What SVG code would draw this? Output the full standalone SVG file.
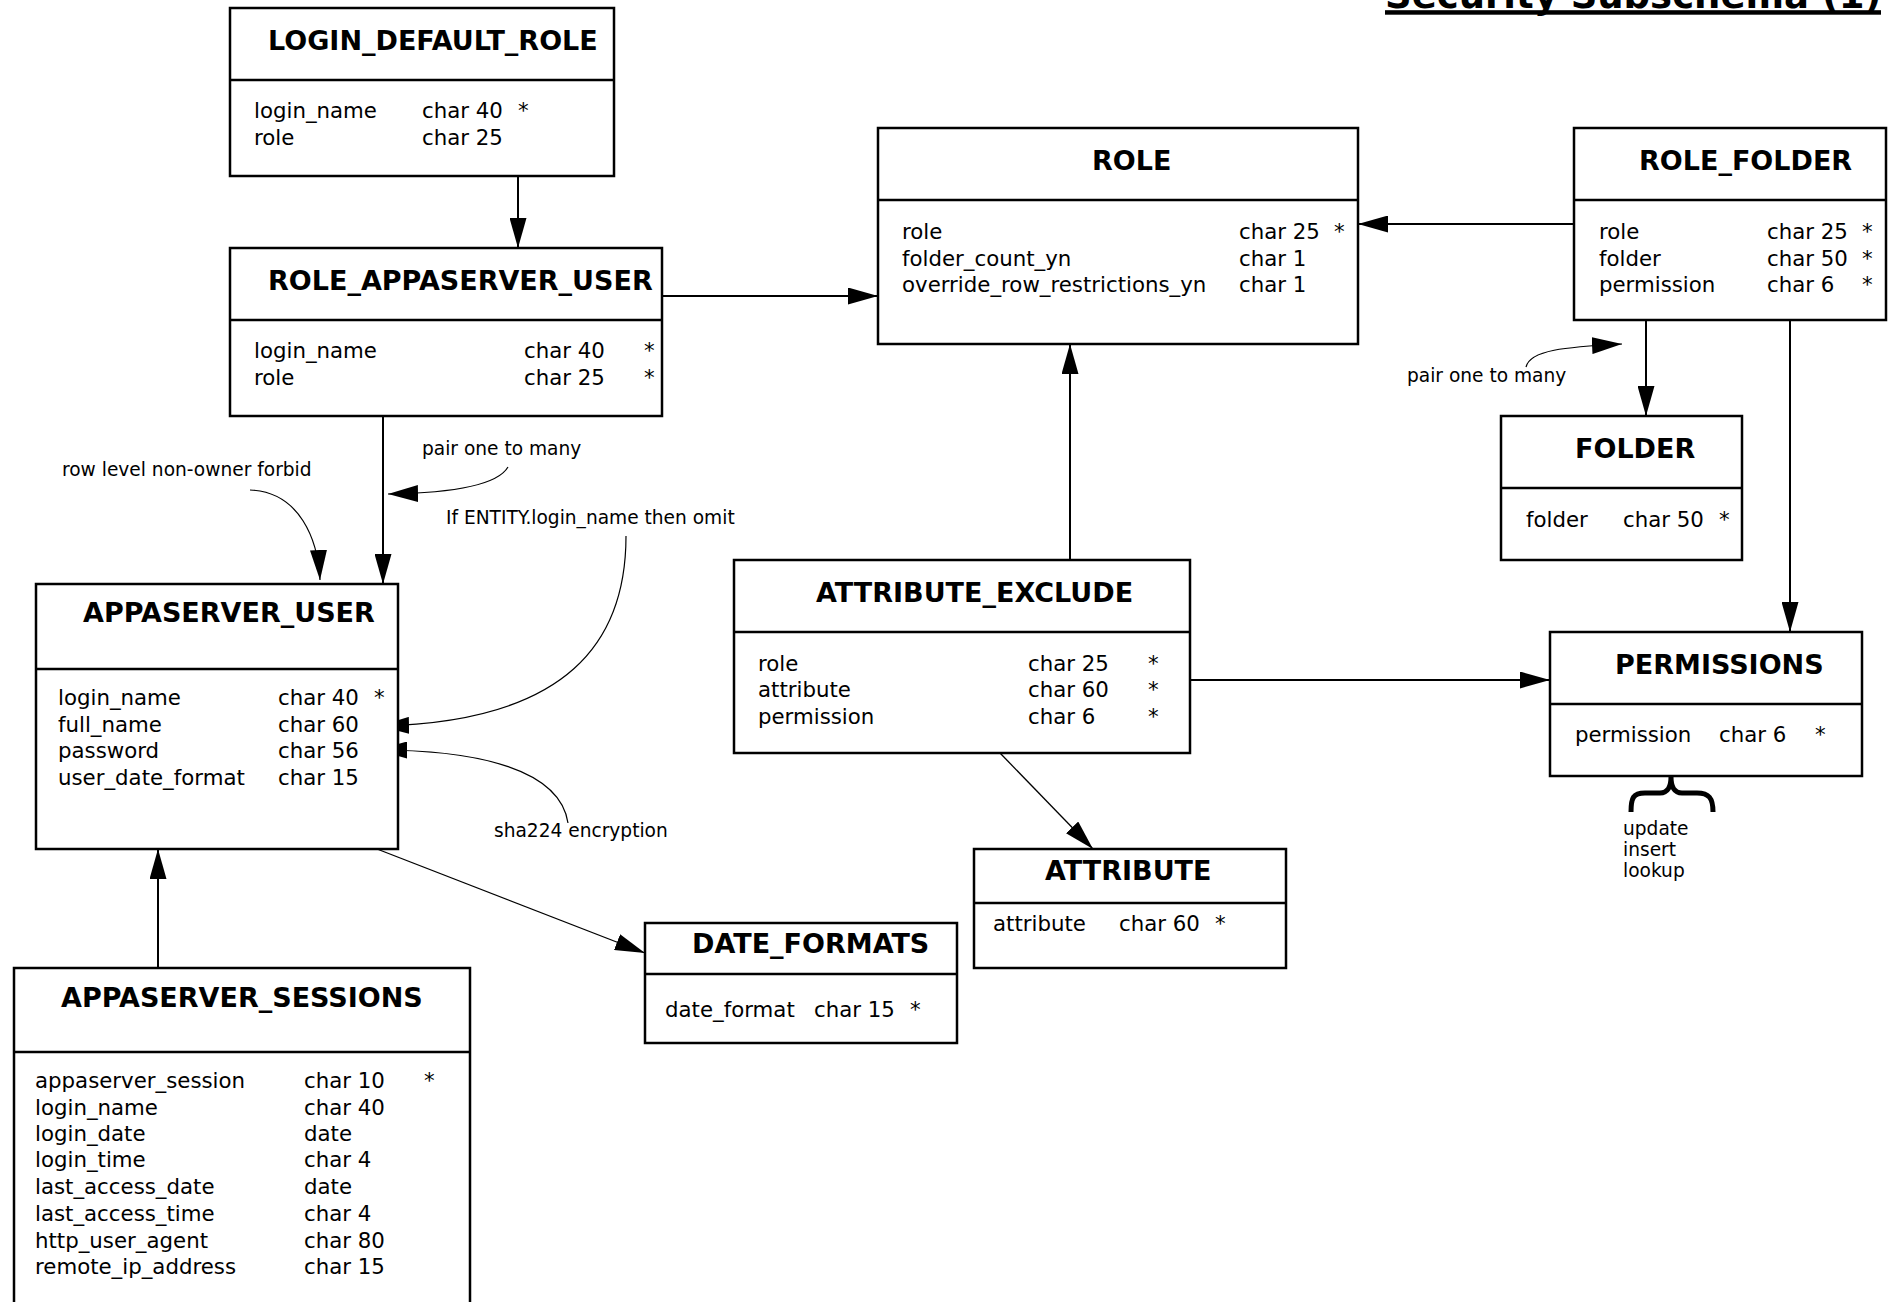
<svg xmlns="http://www.w3.org/2000/svg" width="1898" height="1302" viewBox="0 0 1898 1302">
<style>
.box{fill:#fff;stroke:#000;stroke-width:2.5}
.div{stroke:#000;stroke-width:2.5}
.t{font-family:"DejaVu Sans",sans-serif;font-weight:bold;font-size:27px;fill:#000}
.f{font-family:"DejaVu Sans",sans-serif;font-size:21.3px;fill:#000}
.n{font-family:"DejaVu Sans",sans-serif;font-size:18.6px;fill:#000}
.c{fill:none;stroke:#000;stroke-width:2}
.thin{fill:none;stroke:#000;stroke-width:1.3}
.crv{fill:none;stroke:#000;stroke-width:1.2}
</style>
<defs>
<marker id="ah" markerUnits="userSpaceOnUse" markerWidth="30" markerHeight="17" refX="30" refY="8.5" orient="auto">
<path d="M0,0 L30,8.5 L0,17 z" fill="#000"/>
</marker>
</defs>
<rect width="1898" height="1302" fill="#fff"/>

<g id="title">
<text x="1385" y="8" font-family="DejaVu Sans, sans-serif" font-weight="bold" font-size="37" fill="#000">Security Subschema (1)</text>
<rect x="1385" y="10.2" width="496" height="4.5" fill="#000"/>
</g>

<g id="connectors">
<path class="c" d="M518,176 L518,248" marker-end="url(#ah)"/>
<path class="c" d="M662,296 L878,296" marker-end="url(#ah)"/>
<path class="c" d="M1574,224 L1358,224" marker-end="url(#ah)"/>
<path class="c" d="M383,416 L383,584" marker-end="url(#ah)"/>
<path class="c" d="M158,968 L158,849" marker-end="url(#ah)"/>
<path class="c" d="M1070,560 L1070,344" marker-end="url(#ah)"/>
<path class="c" d="M1190,680 L1550,680" marker-end="url(#ah)"/>
<path class="c" d="M1646,320 L1646,416" marker-end="url(#ah)"/>
<path class="c" d="M1790,320 L1790,632" marker-end="url(#ah)"/>
<path class="thin" d="M1000,753 L1093,849" marker-end="url(#ah)"/>
<path class="thin" d="M377,849 L645,953" marker-end="url(#ah)"/>
<path class="crv" d="M508,467 C497,486 450,493 388,494" marker-end="url(#ah)"/>
<path class="crv" d="M250,490 C300,492 318,540 320,580" marker-end="url(#ah)"/>
<path class="crv" d="M626,536 C626,640 570,722 379,726" marker-end="url(#ah)"/>
<path class="crv" d="M568,823 C560,770 480,750 377,750" marker-end="url(#ah)"/>
<path class="crv" d="M1526,367 C1530,350 1565,347 1622,344" marker-end="url(#ah)"/>
</g>

<g id="notes">
<text class="n" x="422" y="455">pair one to many</text>
<text class="n" x="62" y="476">row level non-owner forbid</text>
<text class="n" x="446" y="524">If ENTITY.login_name then omit</text>
<text class="n" x="494" y="837">sha224 encryption</text>
<text class="n" x="1407" y="382">pair one to many</text>
<path d="M1631,812 C1631,798 1633,793 1645,793 L1660,793 C1668,793 1671,786 1671,777 C1671,786 1674,793 1682,793 L1697,793 C1709,793 1713,798 1713,812" fill="none" stroke="#000" stroke-width="5"/>
<text class="n" x="1623" y="835">update</text>
<text class="n" x="1623" y="856">insert</text>
<text class="n" x="1623" y="877">lookup</text>
</g>

<g id="LOGIN_DEFAULT_ROLE">
<rect class="box" x="230" y="8" width="384" height="168"/>
<line class="div" x1="230" y1="80" x2="614" y2="80"/>
<text class="t" x="268" y="50">LOGIN_DEFAULT_ROLE</text>
<text class="f" x="254" y="118">login_name</text><text class="f" x="422" y="118">char 40</text><text class="f" x="518" y="118">*</text>
<text class="f" x="254" y="145">role</text><text class="f" x="422" y="145">char 25</text>
</g>

<g id="ROLE_APPASERVER_USER">
<rect class="box" x="230" y="248" width="432" height="168"/>
<line class="div" x1="230" y1="320" x2="662" y2="320"/>
<text class="t" x="268" y="290">ROLE_APPASERVER_USER</text>
<text class="f" x="254" y="358">login_name</text><text class="f" x="524" y="358">char 40</text><text class="f" x="644" y="358">*</text>
<text class="f" x="254" y="385">role</text><text class="f" x="524" y="385">char 25</text><text class="f" x="644" y="385">*</text>
</g>

<g id="ROLE">
<rect class="box" x="878" y="128" width="480" height="216"/>
<line class="div" x1="878" y1="200" x2="1358" y2="200"/>
<text class="t" x="1092" y="170">ROLE</text>
<text class="f" x="902" y="239">role</text><text class="f" x="1239" y="239">char 25</text><text class="f" x="1334" y="239">*</text>
<text class="f" x="902" y="266">folder_count_yn</text><text class="f" x="1239" y="266">char 1</text>
<text class="f" x="902" y="292">override_row_restrictions_yn</text><text class="f" x="1239" y="292">char 1</text>
</g>

<g id="ROLE_FOLDER">
<rect class="box" x="1574" y="128" width="312" height="192"/>
<line class="div" x1="1574" y1="200" x2="1886" y2="200"/>
<text class="t" x="1639" y="170">ROLE_FOLDER</text>
<text class="f" x="1599" y="239">role</text><text class="f" x="1767" y="239">char 25</text><text class="f" x="1862" y="239">*</text>
<text class="f" x="1599" y="266">folder</text><text class="f" x="1767" y="266">char 50</text><text class="f" x="1862" y="266">*</text>
<text class="f" x="1599" y="292">permission</text><text class="f" x="1767" y="292">char 6</text><text class="f" x="1862" y="292">*</text>
</g>

<g id="FOLDER">
<rect class="box" x="1501" y="416" width="241" height="144"/>
<line class="div" x1="1501" y1="488" x2="1742" y2="488"/>
<text class="t" x="1575" y="458">FOLDER</text>
<text class="f" x="1526" y="527">folder</text><text class="f" x="1623" y="527">char 50</text><text class="f" x="1719" y="527">*</text>
</g>

<g id="PERMISSIONS">
<rect class="box" x="1550" y="632" width="312" height="144"/>
<line class="div" x1="1550" y1="704" x2="1862" y2="704"/>
<text class="t" x="1615" y="674">PERMISSIONS</text>
<text class="f" x="1575" y="742">permission</text><text class="f" x="1719" y="742">char 6</text><text class="f" x="1815" y="742">*</text>
</g>

<g id="ATTRIBUTE_EXCLUDE">
<rect class="box" x="734" y="560" width="456" height="193"/>
<line class="div" x1="734" y1="632" x2="1190" y2="632"/>
<text class="t" x="816" y="602">ATTRIBUTE_EXCLUDE</text>
<text class="f" x="758" y="671">role</text><text class="f" x="1028" y="671">char 25</text><text class="f" x="1148" y="671">*</text>
<text class="f" x="758" y="697">attribute</text><text class="f" x="1028" y="697">char 60</text><text class="f" x="1148" y="697">*</text>
<text class="f" x="758" y="724">permission</text><text class="f" x="1028" y="724">char 6</text><text class="f" x="1148" y="724">*</text>
</g>

<g id="ATTRIBUTE">
<rect class="box" x="974" y="849" width="312" height="119"/>
<line class="div" x1="974" y1="903" x2="1286" y2="903"/>
<text class="t" x="1045" y="880">ATTRIBUTE</text>
<text class="f" x="993" y="931">attribute</text><text class="f" x="1119" y="931">char 60</text><text class="f" x="1215" y="931">*</text>
</g>

<g id="DATE_FORMATS">
<rect class="box" x="645" y="923" width="312" height="120"/>
<line class="div" x1="645" y1="974" x2="957" y2="974"/>
<text class="t" x="692" y="953">DATE_FORMATS</text>
<text class="f" x="665" y="1017">date_format</text><text class="f" x="814" y="1017">char 15</text><text class="f" x="910" y="1017">*</text>
</g>

<g id="APPASERVER_USER">
<rect class="box" x="36" y="584" width="362" height="265"/>
<line class="div" x1="36" y1="669" x2="398" y2="669"/>
<text class="t" x="83" y="622">APPASERVER_USER</text>
<text class="f" x="58" y="705">login_name</text><text class="f" x="278" y="705">char 40</text><text class="f" x="374" y="705">*</text>
<text class="f" x="58" y="732">full_name</text><text class="f" x="278" y="732">char 60</text>
<text class="f" x="58" y="758">password</text><text class="f" x="278" y="758">char 56</text>
<text class="f" x="58" y="785">user_date_format</text><text class="f" x="278" y="785">char 15</text>
</g>

<g id="APPASERVER_SESSIONS">
<rect class="box" x="14" y="968" width="456" height="360"/>
<line class="div" x1="14" y1="1052" x2="470" y2="1052"/>
<text class="t" x="61" y="1007">APPASERVER_SESSIONS</text>
<text class="f" x="35" y="1088">appaserver_session</text><text class="f" x="304" y="1088">char 10</text><text class="f" x="424" y="1088">*</text>
<text class="f" x="35" y="1115">login_name</text><text class="f" x="304" y="1115">char 40</text>
<text class="f" x="35" y="1141">login_date</text><text class="f" x="304" y="1141">date</text>
<text class="f" x="35" y="1167">login_time</text><text class="f" x="304" y="1167">char 4</text>
<text class="f" x="35" y="1194">last_access_date</text><text class="f" x="304" y="1194">date</text>
<text class="f" x="35" y="1221">last_access_time</text><text class="f" x="304" y="1221">char 4</text>
<text class="f" x="35" y="1248">http_user_agent</text><text class="f" x="304" y="1248">char 80</text>
<text class="f" x="35" y="1274">remote_ip_address</text><text class="f" x="304" y="1274">char 15</text>
</g>
</svg>
